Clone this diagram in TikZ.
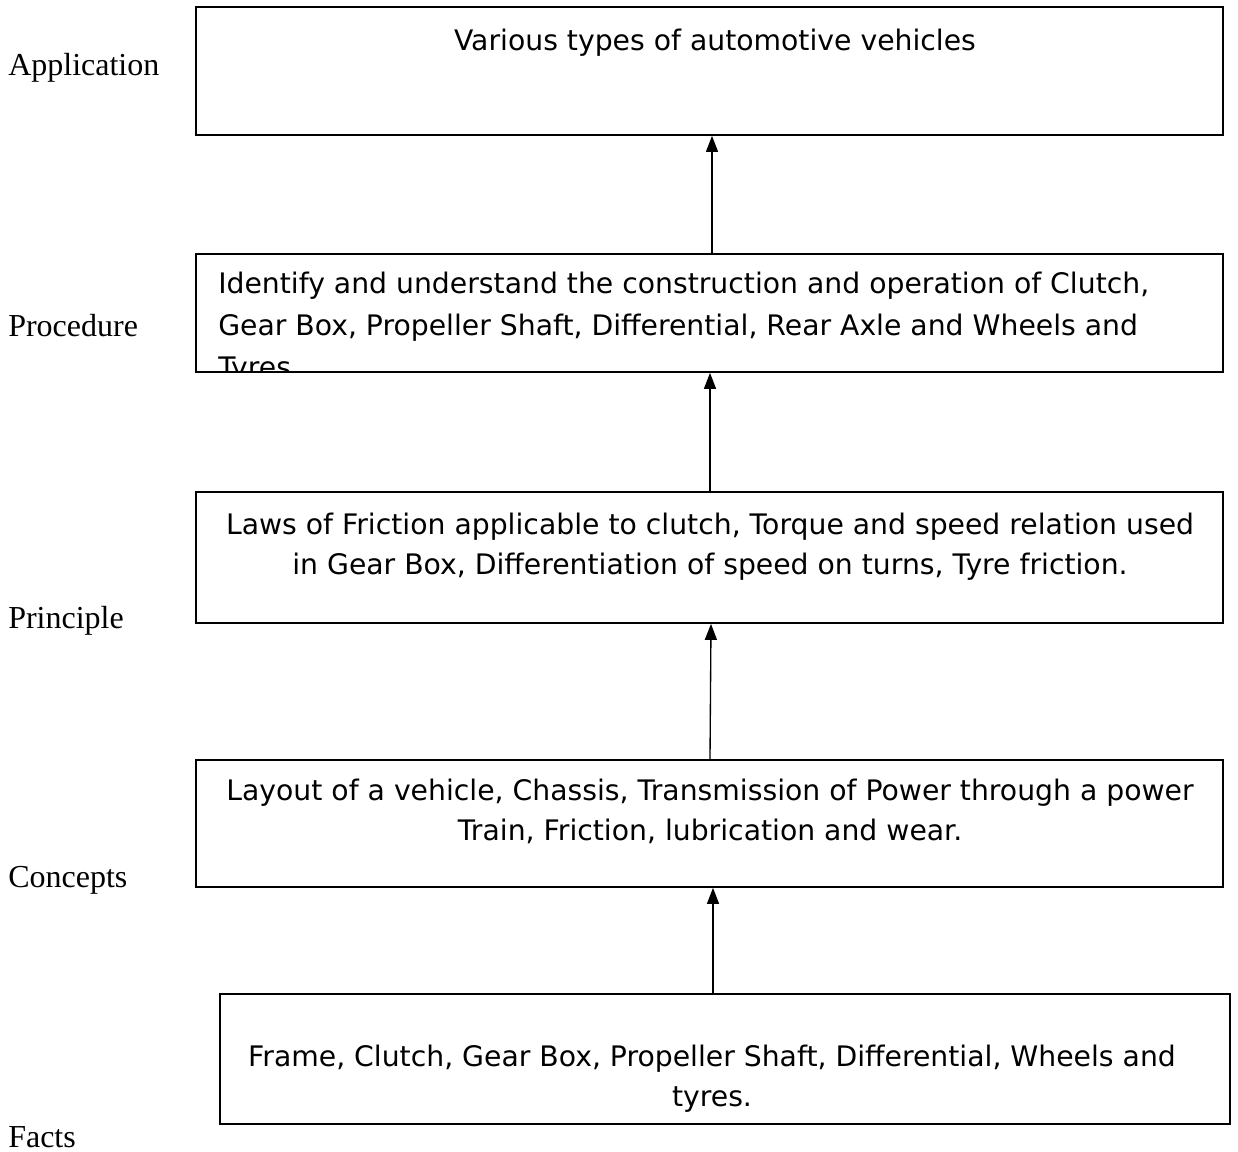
\documentclass[tikz,border=0pt]{standalone}
\usepackage{fontspec}
\setmainfont{Liberation Serif}
\newfontfamily\boxfont{DejaVu Sans}
\usetikzlibrary{arrows.meta}
\begin{document}
\begin{tikzpicture}[x=0.75pt,y=-0.75pt,
  lvbox/.style={draw=black, line width=1.3pt, rectangle},
  boxtxt/.style={font=\boxfont\fontsize{21.2}{30}\selectfont, align=center, inner sep=0pt},
  lbl/.style={font=\fontsize{24}{28}\selectfont, anchor=west, inner sep=0pt},
  up/.style={line width=1pt, -{Triangle[length=12pt,width=9pt]}}]
\useasboundingbox (0,0) rectangle (1238,1152);
% boxes
\node[lvbox, minimum width=1027*0.75pt, minimum height=128*0.75pt] (b1) at (709.5,71) {};
\node[lvbox, minimum width=1027*0.75pt, minimum height=118*0.75pt] (b2) at (709.5,313) {};
\node[lvbox, minimum width=1027*0.75pt, minimum height=131*0.75pt] (b3) at (709.5,557.5) {};
\node[lvbox, minimum width=1027*0.75pt, minimum height=127*0.75pt] (b4) at (709.5,823.5) {};
\node[lvbox, minimum width=1010*0.75pt, minimum height=130*0.75pt] (b5) at (725,1059) {};
% texts
\node[boxtxt] (t1) at (715,43) {Various types of automotive vehicles};
\begin{scope}
\clip (b2.north west) rectangle (b2.south east);
\node[boxtxt, font=\boxfont\fontsize{21.2}{31.5}\selectfont, align=left, anchor=north west] (t2) at (218,272) {Identify and understand the construction and operation of Clutch,\\Gear Box, Propeller Shaft, Differential, Rear Axle and Wheels and\\Tyres.};
\end{scope}
\node[boxtxt] (t3) at (710,546.5) {Laws of Friction applicable to clutch, Torque and speed relation used\\in Gear Box, Differentiation of speed on turns, Tyre friction.};
\node[boxtxt] (t4) at (710,811.5) {Layout of a vehicle, Chassis, Transmission of Power through a power\\Train, Friction, lubrication and wear.};
\node[boxtxt] (t5) at (712,1079) {Frame, Clutch, Gear Box, Propeller Shaft, Differential, Wheels and\\tyres.};
% side labels
\node[lbl] (l1) at (8,68) {Application};
\node[lbl] (l2) at (8,326) {Procedure};
\node[lbl] (l3) at (8,621) {Principle};
\node[lbl] (l4) at (8,880) {Concepts};
\node[lbl] (l5) at (8,1137) {Facts};
% arrows
\draw[up] (b2.north -| 712,0) -- (b1.south -| 712,0);
\draw[up] (b3.north -| 710,0) -- (b2.south -| 710,0);
\draw[up] (b4.north -| 710,0) -- (b3.south -| 711,0);
\draw[up] (b5.north -| 713,0) -- (b4.south -| 713,0);
\end{tikzpicture}
\end{document}
